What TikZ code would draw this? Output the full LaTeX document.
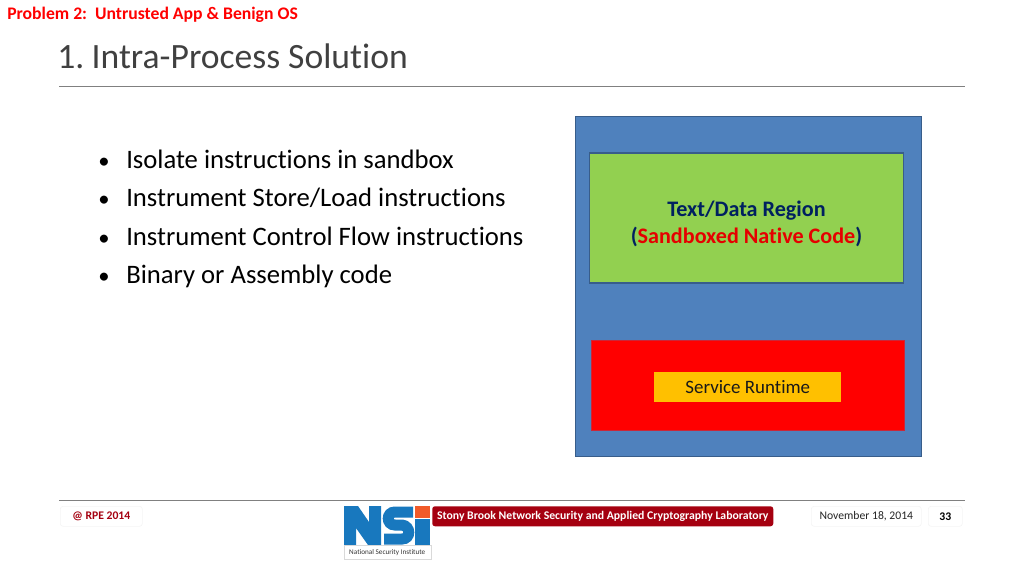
\documentclass[tikz,border=0pt]{standalone}
\usepackage{fontspec}
\setmainfont[Ligatures=NoCommon]{Carlito}
\usepackage{tikz}
\definecolor{boxblue}{HTML}{4F81BD}
\definecolor{boxblueedge}{HTML}{385D8A}
\definecolor{boxgreen}{HTML}{92D050}
\definecolor{boxred}{HTML}{FF0000}
\definecolor{boxamber}{HTML}{FFC000}
\definecolor{navytext}{HTML}{002060}
\definecolor{footred}{HTML}{A50010}
\definecolor{logoblue}{HTML}{1878BE}
\definecolor{logoorange}{HTML}{F15A29}
\definecolor{titlegray}{HTML}{404040}
\tikzset{
  px/.style={x=0.75pt,y=-0.75pt},
  rulegray/.style={draw=black!50,line width=0.75pt},
  region/.style={draw,line width=1pt,anchor=north west,inner sep=0pt,outer sep=0pt},
  bullet/.style={anchor=base west,inner sep=0pt,font=\fontsize{20}{20}\selectfont,text=black},
  tab/.style={draw=black!4,fill=white,rounded corners=2pt,line width=0.5pt,anchor=north west,inner sep=0pt}
}
\begin{document}
\begin{tikzpicture}[px]
    \useasboundingbox (0,0) rectangle (1024,576);
    % header
    \node (problem) [anchor=base west,inner sep=0pt,text=red,font=\fontsize{13.25}{14}\bfseries\selectfont] at (7,19.5) {Problem 2:\ \ Untrusted App \& Benign OS};
    \node (title) [anchor=base west,inner sep=0pt,text=titlegray,font=\fontsize{26.7}{26}\selectfont] at (57,68) {1.\hspace{-2.5pt} Intra-Process Solution};
    \draw[rulegray] (59,86.5) -- (965,86.5);
    % bullets
    \foreach \name/\ypos/\txt in {one/168.5/{Isolate instructions in sandbox},
      two/206.5/{Instrument Store/Load instructions},
      three/245/{Instrument Control Flow instructions},
      four/283.5/{Binary or Assembly code}} {
      \node (dot\name) [bullet,font=\fontsize{17}{17}\selectfont] at (98,\ypos) {•};
      \node (item\name) [bullet] at (126,\ypos) {\txt};
    }
    % sandbox
    \node (outer) [region,draw=boxblueedge,fill=boxblue,minimum width=346pt*0.75,minimum height=340pt*0.75] at (575.5,116.5) {};
    \node (textdata) [region,draw=boxblueedge,fill=boxgreen,minimum width=314pt*0.75,minimum height=130pt*0.75] at (589.5,153) {};
    \node (textlabel) [align=center,inner sep=0pt,text=navytext,font=\fontsize{16.6}{20.5}\bfseries\selectfont] at (746.5,224) {Text/Data Region\\(\textcolor{red!90!black}{Sandboxed Native Code})};
    \node (runtimebox) [region,draw=red!70!boxblue,fill=boxred,minimum width=313pt*0.75,minimum height=90pt*0.75] at (591.5,340.5) {};
    \node (runtime) [anchor=north west,fill=boxamber,inner sep=0pt,minimum width=187pt*0.75,minimum height=30pt*0.75,text=black!90,font=\fontsize{14.2}{14}\selectfont] at (654,372) {Service Runtime\hspace{1pt}};
    % footer
    \draw[rulegray] (59,500.5) -- (965,500.5);
    \node (rpe) [tab,minimum width=82pt*0.75,minimum height=20pt*0.75,text=footred,font=\fontsize{8.75}{10}\bfseries\selectfont] at (60,506) {@ RPE 2014\hspace{3pt}};
    \fill[logoblue] (344,506) -- (358,506) -- (369,522) -- (369,506) -- (381,506) -- (381,545) -- (368,545) -- (356,528) -- (356,545) -- (344,545) -- cycle;
    \draw[logoblue,line width=8.25pt] (413,512) -- (395,512) .. controls (386,512) and (386,525) .. (395,525) -- (402,525) .. controls (411,526) and (411,539) .. (402,539) -- (384,539);
    \fill[logoblue] (415,519) rectangle (430,545);
    \fill[logoorange] (415,506) rectangle (430,518);
    \node (logoname) [draw=black!15,line width=0.4pt,anchor=north west,inner sep=0pt,minimum width=87pt*0.75,minimum height=14pt*0.75,text=black!80,font=\fontsize{5.4}{6}\selectfont] at (343.5,545) {National Security Institute};
    \node (lab) [anchor=north west,fill=footred,rounded corners=2pt,inner sep=0pt,minimum width=341pt*0.75,minimum height=20pt*0.75,text=white,font=\fontsize{8.8}{10}\bfseries\selectfont] at (432,506) {Stony Brook Network Security and Applied Cryptography Laboratory};
    \node (date) [tab,minimum width=110pt*0.75,minimum height=20pt*0.75,text=black!85,font=\fontsize{8.75}{10}\selectfont] at (811,506) {November 18, 2014};
    \node (page) [tab,minimum width=34pt*0.75,minimum height=20pt*0.75,text=black,font=\fontsize{8.75}{10}\bfseries\selectfont] at (928,506) {33};
  \end{tikzpicture}
\end{document}
